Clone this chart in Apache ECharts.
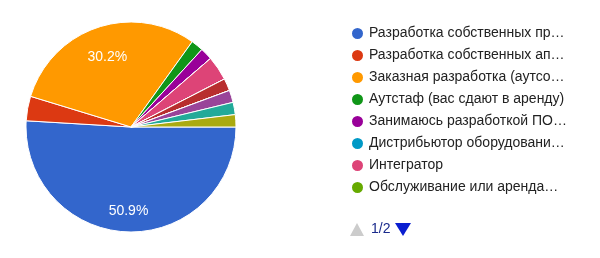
<!DOCTYPE html>
<html>
<head>
<meta charset="utf-8">
<style>
  html, body { margin: 0; padding: 0; background: #fff; }
  #main { width: 600px; height: 258px; }
</style>
<script src="https://cdn.jsdelivr.net/npm/echarts@6/dist/echarts.min.js"></script>
</head>
<body>
<div id="main"></div>
<script>
// варианты ответа (порядок как в легенде)
var categories = [
  'Разработка собственных продуктов',
  'Разработка собственных аппаратных решений',
  'Заказная разработка (аутсорсинг)',
  'Аутстаф (вас сдают в аренду)',
  'Занимаюсь разработкой ПО для внутренних нужд компании',
  'Дистрибьютор оборудования и ПО',
  'Интегратор',
  'Обслуживание или аренда ИТ-инфраструктуры',
  'Консалтинг',
  'Фриланс',
  'Стартап',
  'Государственная организация',
  'Другое'
];
// количество ответов
var counts = [27, 2, 16, 1, 1, 0, 2, 0, 1, 0, 1, 1, 1];
var colors = ['#3366cc', '#dc3912', '#ff9900', '#109618', '#990099', '#0099c6',
  '#dd4477', '#66aa00', '#b82e2e', '#316395', '#994499', '#22aa99', '#aaaa11'];
// на первой странице легенды 8 пунктов, всего страниц 2
var pageSize = 8;
var pageText = '1/2';

var font = 'Arial, "Liberation Sans", sans-serif';
var cx = 131, cy = 127, R = 105;

var chart = echarts.init(document.getElementById('main'));

var total = counts.reduce(function (a, b) { return a + b; }, 0);

// обрезка длинных подписей легенды с многоточием
var ctx = document.createElement('canvas').getContext('2d');
ctx.font = '14px ' + font;
function fit(s, w) {
  if (ctx.measureText(s).width <= w) return s;
  while (s.length && ctx.measureText(s + '…').width > w) s = s.slice(0, -1);
  return s.replace(/\s+$/, '') + '…';
}

var pieData = categories.map(function (name, i) {
  return { name: name, value: counts[i], itemStyle: { color: colors[i] } };
});

// середина сектора (по часовой от 3 часов)
function midAngle(idx) {
  var before = 0;
  for (var i = 0; i < idx; i++) before += counts[i];
  return (before + counts[idx] / 2) / total * Math.PI * 2;
}

chart.setOption({
  animation: false,
  legend: {
    orient: 'vertical',
    left: 345,
    top: 21,
    icon: 'circle',
    itemWidth: 13,
    itemHeight: 13,
    itemGap: 7,
    textStyle: { fontFamily: font, fontSize: 14, color: '#222' },
    formatter: function (name) { return fit(name, 201); },
    data: categories.slice(0, pageSize)
  },
  graphic: [
    { type: 'polygon', shape: { points: [[357, 223], [364, 236], [350, 236]] },
      style: { fill: '#cccccc' } },
    { type: 'text', x: 371, y: 229,
      style: { text: pageText, fontFamily: font, fontSize: 14, fill: '#1a2a8c',
        verticalAlign: 'middle' } },
    { type: 'polygon', shape: { points: [[395, 223], [411, 223], [403, 236]] },
      style: { fill: '#0a1ed0' } }
  ],
  series: [
    {
      type: 'pie',
      center: [cx, cy],
      radius: [0, R],
      startAngle: 0,
      clockwise: true,
      avoidLabelOverlap: false,
      labelLine: { show: false },
      itemStyle: { borderColor: '#fff', borderWidth: 1 },
      emphasis: { disabled: true },
      label: {
        show: true,
        position: 'inside',
        color: '#fff',
        fontFamily: font,
        fontSize: 14,
        formatter: function (p) {
          return p.percent >= 5 ? p.percent.toFixed(1) + '%' : '';
        }
      },
      labelLayout: function (p) {
        var a = midAngle(p.dataIndex);
        var rl = R * (0.75 + 0.05 * Math.sin(a));
        return {
          x: cx + rl * Math.cos(a),
          y: cy + rl * Math.sin(a),
          align: 'center',
          verticalAlign: 'middle'
        };
      },
      data: pieData
    }
  ]
});
</script>
</body>
</html>
